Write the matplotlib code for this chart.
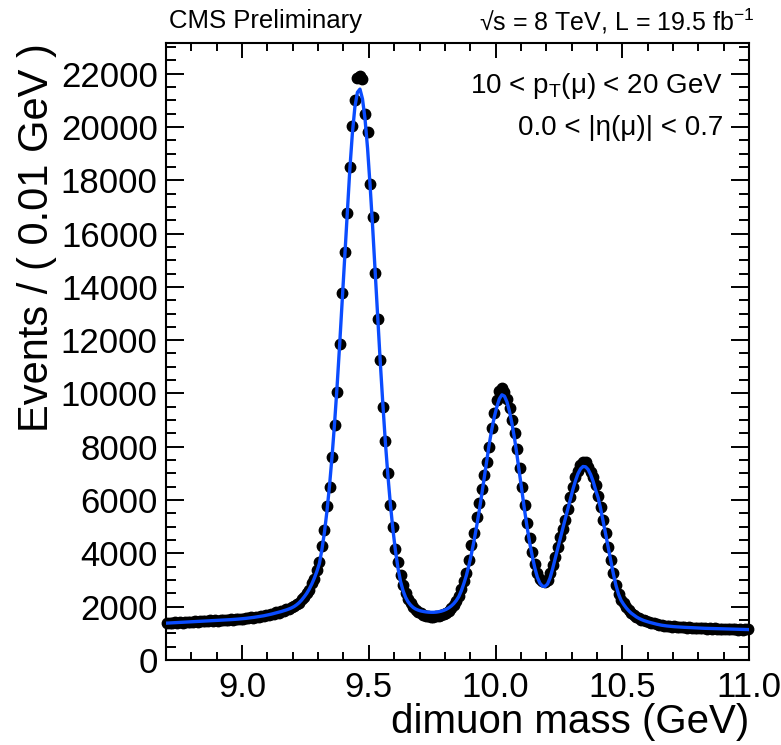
"""
Dimuon invariant mass spectrum in the Upsilon region with the fitted model.
"""

import numpy as np
import matplotlib
matplotlib.use("Agg")
import matplotlib.pyplot as plt
from matplotlib.ticker import MultipleLocator, FixedLocator

plt.rcParams["font.family"] = ["Liberation Sans", "DejaVu Sans"]
plt.rcParams["mathtext.fontset"] = "custom"
plt.rcParams["mathtext.rm"] = "Liberation Sans"
plt.rcParams["mathtext.it"] = "Liberation Sans:italic"

# binning: 0.01 GeV bins from 8.70 to 11.00 GeV
MASS_LO = 8.70
MASS_HI = 11.00
BIN_WIDTH = 0.01

# events per bin (data points)
counts = [
    1370, 1402, 1381, 1415, 1392, 1420, 1398, 1431, 1412, 1440,
    1428, 1455, 1437, 1462, 1448, 1470, 1452, 1483, 1466, 1490,
    1478, 1505, 1489, 1512, 1497, 1528, 1510, 1541, 1522, 1556,
    1540, 1578, 1560, 1601, 1585, 1628, 1612, 1655, 1642, 1700,
    1688, 1742, 1733, 1795, 1780, 1843, 1838, 1905, 1930, 1985,
    2020, 2095, 2140, 2280, 2350, 2530, 2640, 2890, 3050, 3360,
    3667, 4291, 4880, 5781, 6506, 7632, 8821, 10072, 11850, 13764,
    15302, 16767, 18494, 20020, 21021, 21850, 21900, 21800, 20484, 19794,
    17856, 16604, 14515, 12789, 11240, 9485, 8221, 7007, 5818, 4980,
    4154, 3690, 3190, 2800, 2520, 2290, 2120, 1990, 1890, 1810,
    1760, 1700, 1660, 1640, 1625, 1630, 1645, 1660, 1690, 1720,
    1760, 1850, 1960, 2060, 2200, 2400, 2650, 2950, 3254, 3754,
    4317, 4756, 5380, 5900, 6420, 6950, 7445, 8008, 8698, 9260,
    9760, 10080, 10199, 10050, 9800, 9450, 9000, 8500, 7900, 7200,
    6500, 5800, 5150, 4580, 4066, 3600, 3250, 3050, 2960, 2940,
    3000, 3254, 3550, 3878, 4250, 4600, 4920, 5255, 5650, 6131,
    6506, 6850, 7100, 7300, 7445, 7420, 7257, 7050, 6850, 6569,
    6150, 5755, 5255, 4756, 4254, 3754, 3254, 2800, 2480, 2250,
    2128, 1990, 1880, 1752, 1700, 1630, 1570, 1502, 1490, 1450,
    1428, 1392, 1375, 1338, 1331, 1296, 1291, 1266, 1274, 1245,
    1262, 1238, 1247, 1222, 1233, 1209, 1224, 1203, 1215, 1192,
    1208, 1185, 1199, 1176, 1192, 1170, 1186, 1165, 1180, 1158,
    1174, 1152, 1170, 1147, 1166, 1141, 1160, 1138, 1156, 1150,
]

# fitted model evaluated at the bin centres
fit = [
    1385, 1390, 1395, 1400, 1405, 1410, 1415, 1420, 1425, 1430,
    1435, 1440, 1445, 1450, 1455, 1460, 1465, 1470, 1476, 1482,
    1488, 1493, 1498, 1503, 1508, 1514, 1520, 1527, 1535, 1543,
    1552, 1562, 1573, 1585, 1598, 1612, 1625, 1640, 1658, 1678,
    1700, 1720, 1745, 1770, 1795, 1820, 1850, 1880, 1915, 1955,
    2005, 2070, 2150, 2250, 2370, 2500, 2660, 2850, 3070, 3320,
    3620, 4150, 4800, 5600, 6550, 7650, 8900, 10300, 11850, 13500,
    15200, 16850, 18400, 19750, 20750, 21300, 21420, 21050, 20300, 19200,
    17800, 16250, 14550, 12850, 11200, 9650, 8200, 6950, 5850, 4900,
    4100, 3450, 2950, 2600, 2350, 2180, 2060, 1970, 1910, 1870,
    1840, 1820, 1805, 1795, 1790, 1790, 1795, 1810, 1830, 1860,
    1900, 1955, 2025, 2115, 2230, 2380, 2600, 2870, 3180, 3560,
    3990, 4470, 5000, 5570, 6180, 6820, 7480, 8100, 8650, 9120,
    9500, 9800, 9950, 9900, 9680, 9320, 8850, 8300, 7650, 6950,
    6250, 5580, 4950, 4380, 3880, 3450, 3100, 2880, 2770, 2760,
    2850, 3080, 3420, 3800, 4180, 4560, 4930, 5300, 5680, 6050,
    6400, 6720, 6990, 7170, 7260, 7250, 7150, 6960, 6700, 6370,
    6080, 5650, 5180, 4690, 4190, 3700, 3220, 2800, 2470, 2240,
    2090, 1960, 1850, 1760, 1690, 1620, 1565, 1520, 1480, 1450,
    1420, 1395, 1370, 1345, 1325, 1305, 1290, 1278, 1268, 1258,
    1250, 1243, 1237, 1231, 1226, 1221, 1216, 1211, 1206, 1201,
    1197, 1193, 1189, 1186, 1183, 1180, 1177, 1174, 1171, 1168,
    1165, 1163, 1160, 1158, 1155, 1152, 1150, 1147, 1145, 1142,
]

x_ticks = [9.0, 9.5, 10.0, 10.5, 11.0]
x_tick_labels = ["9.0", "9.5", "10.0", "10.5", "11.0"]
y_ticks = list(range(0, 22001, 2000))


def main():
    centres = MASS_LO + BIN_WIDTH * (np.arange(len(counts)) + 0.5)

    fig = plt.figure(figsize=(7.81, 7.45), dpi=100)
    ax = fig.add_axes([0.2126, 0.1141, 0.7465, 0.8282])

    ax.plot(centres, counts, "o", color="black", markersize=7.5,
            clip_on=False, zorder=2)
    ax.plot(centres, fit, "-", color="#0a4cff", linewidth=2.4, zorder=3)

    ax.set_xlim(MASS_LO, MASS_HI)
    ax.set_ylim(0, 23150)

    # ROOT-like axes ----------------------------------------------------------
    ax.xaxis.set_major_locator(FixedLocator(x_ticks))
    ax.set_xticklabels(x_tick_labels)
    ax.xaxis.set_minor_locator(MultipleLocator(0.1))
    ax.yaxis.set_major_locator(FixedLocator(y_ticks))
    ax.yaxis.set_minor_locator(MultipleLocator(500))

    ax.tick_params(which="both", direction="in", top=True, right=True,
                   width=1.4, labelsize=25, colors="black")
    ax.tick_params(axis="x", which="major", length=11, pad=8)
    ax.tick_params(axis="x", which="minor", length=5.5)
    ax.tick_params(axis="y", which="major", length=13, pad=6)
    ax.tick_params(axis="y", which="minor", length=7)
    for sp in ax.spines.values():
        sp.set_linewidth(1.5)

    ax.set_xlabel("dimuon mass (GeV)", fontsize=29, loc="right", labelpad=-1)
    ax.set_ylabel("Events / ( 0.01 GeV )", fontsize=30, loc="top", labelpad=3)

    # labels ------------------------------------------------------------------
    fig.text(0.216, 0.972, "CMS Preliminary", fontsize=18.5, ha="left",
             va="center")
    fig.text(0.966, 0.972, "\u221as = 8 TeV, L = 19.5 fb$^{-1}$", fontsize=18,
             ha="right", va="center")
    ax.text(0.955, 0.93, "10 < p$_{\\mathregular{T}}$(\u03bc) < 20 GeV",
            transform=ax.transAxes, fontsize=20, ha="right", va="center")
    ax.text(0.955, 0.862, "0.0 < |\u03b7(\u03bc)| < 0.7",
            transform=ax.transAxes, fontsize=20, ha="right", va="center")

    fig.savefig("out.png", dpi=100)


if __name__ == "__main__":
    main()
